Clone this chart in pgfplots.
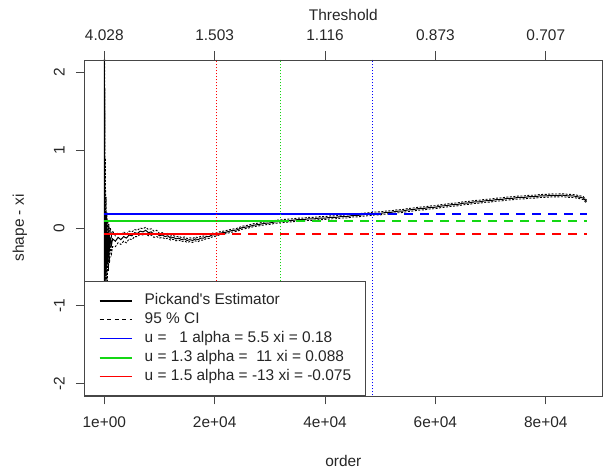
\documentclass[border=0pt]{standalone}
\usepackage{fontspec}
\setmainfont{Liberation Sans}[Ligatures=TeXOff]
\usepackage{pgfplots}
\pgfplotsset{compat=1.18}
\usepackage{pgfplotstable}
\definecolor{rblue}{RGB}{0,0,255}
\definecolor{rgreen}{RGB}{20,215,20}
\definecolor{rred}{RGB}{255,0,0}
\definecolor{frame}{RGB}{70,70,70}
\newcommand\f{\fontsize{15.5}{18}\selectfont}

\pgfplotstableread{
x est lo hi
1 3.0 -5 5
25 -3.0 -5 5
50 1.5 -3 4
80 -1.2 -2.5 1.0
110 0.5 -1.5 1.8
150 -0.8 -1.6 0.2
200 0.2 -0.6 0.9
260 -0.6 -1.1 -0.1
330 0.0 -0.4 0.4
400 -0.5 -0.8 -0.2
480 -0.05 -0.3 0.2
560 -0.45 -0.7 -0.2
650 -0.08 -0.25 0.1
750 -0.38 -0.55 -0.2
850 -0.1 -0.25 0.05
950 -0.3 -0.45 -0.15
1100 -0.12 -0.24 0.0
1300 -0.22 -0.33 -0.11
1500 -0.14 -0.24 -0.04
2000 -0.17 -0.24 -0.10
2500 -0.12 -0.19 -0.06
3000 -0.15 -0.21 -0.09
3500 -0.11 -0.17 -0.05
4000 -0.13 -0.19 -0.08
4500 -0.09 -0.14 -0.04
5000 -0.10 -0.15 -0.05
5500 -0.06 -0.11 -0.02
6000 -0.07 -0.11 -0.03
6500 -0.04 -0.08 0.00
7000 -0.05 -0.09 -0.01
7500 -0.03 -0.07 0.01
8000 -0.06 -0.10 -0.02
8500 -0.05 -0.09 -0.01
9000 -0.08 -0.12 -0.04
9500 -0.07 -0.11 -0.03
10000 -0.10 -0.13 -0.07
10500 -0.09 -0.12 -0.06
11000 -0.11 -0.14 -0.08
11500 -0.10 -0.13 -0.07
12000 -0.13 -0.155 -0.105
12500 -0.12 -0.145 -0.095
13000 -0.14 -0.165 -0.115
13500 -0.13 -0.155 -0.105
14000 -0.15 -0.175 -0.125
14500 -0.14 -0.165 -0.115
15000 -0.16 -0.185 -0.135
15500 -0.15 -0.175 -0.125
16000 -0.16 -0.185 -0.135
16500 -0.14 -0.165 -0.115
17000 -0.15 -0.175 -0.125
17500 -0.13 -0.155 -0.105
18000 -0.13 -0.155 -0.105
18500 -0.11 -0.135 -0.085
19000 -0.11 -0.135 -0.085
19500 -0.09 -0.115 -0.065
20000 -0.09 -0.11 -0.07
21000 -0.065 -0.085 -0.047
22000 -0.055 -0.073 -0.035
23000 -0.035 -0.055 -0.017
24000 -0.025 -0.043 -0.005
25000 0.005 -0.015 0.023
26000 0.015 -0.003 0.035
27000 0.035 0.017 0.055
28000 0.045 0.027 0.063
29000 0.06 0.04 0.078
30000 0.065 0.047 0.085
31000 0.08 0.06 0.098
32000 0.085 0.067 0.105
33000 0.095 0.075 0.113
34000 0.097 0.079 0.117
35000 0.108 0.088 0.126
36000 0.107 0.089 0.127
37000 0.118 0.098 0.136
38000 0.117 0.099 0.137
39000 0.128 0.108 0.146
40000 0.127 0.109 0.147
41000 0.138 0.118 0.156
42000 0.137 0.119 0.157
43000 0.148 0.128 0.166
44000 0.147 0.129 0.167
45000 0.162 0.142 0.18
46000 0.162 0.144 0.182
47000 0.173 0.153 0.191
48000 0.177 0.159 0.197
49000 0.188 0.168 0.206
50000 0.187 0.169 0.207
51000 0.2 0.18 0.218
52000 0.202 0.184 0.222
53000 0.215 0.195 0.233
54000 0.217 0.199 0.237
55000 0.232 0.212 0.25
56000 0.237 0.219 0.257
57000 0.25 0.23 0.268
58000 0.252 0.234 0.272
59000 0.265 0.245 0.283
60000 0.267 0.249 0.287
61000 0.282 0.262 0.3
62000 0.288 0.27 0.308
63000 0.3 0.28 0.318
64000 0.303 0.285 0.323
65000 0.318 0.298 0.336
66000 0.322 0.304 0.342
67000 0.335 0.315 0.353
68000 0.337 0.319 0.357
69000 0.35 0.33 0.368
70000 0.352 0.334 0.372
71000 0.365 0.345 0.383
72000 0.367 0.349 0.387
73000 0.38 0.36 0.398
74000 0.382 0.364 0.402
75000 0.393 0.373 0.411
76000 0.392 0.374 0.412
77000 0.403 0.383 0.421
78000 0.402 0.384 0.422
79000 0.413 0.393 0.431
80000 0.412 0.394 0.432
81000 0.42 0.40 0.438
82000 0.417 0.399 0.437
83000 0.422 0.402 0.44
84000 0.413 0.395 0.433
85000 0.412 0.392 0.43
86000 0.398 0.38 0.418
86800 0.385 0.365 0.403
87400 0.34 0.32 0.358
}\pick

\begin{document}
\begin{tikzpicture}
\begin{axis}[
  scale only axis, width=518bp, height=336bp,
  xmin=-3626, xmax=90245, ymin=-2.16, ymax=2.16,
  scaled x ticks=false, scaled y ticks=false,
  axis line style={draw=frame, line width=0.8bp},
  tick style={draw=frame, line width=0.8bp},
  tick align=outside, major tick length=8.5bp,
  xtick pos=bottom, ytick pos=left,
  xtick={1,20000,40000,60000,80000},
  xticklabels={1e+00,2e+04,4e+04,6e+04,8e+04},
  ytick={-2,-1,0,1,2},
  yticklabels={-2,-1,0,1,2},
  xticklabel style={font=\f, inner sep=0pt, anchor=north, text=black!85},
  yticklabel style={font=\f, inner sep=0pt, rotate=90, anchor=south, text=black!85},
  xticklabel shift=12.5bp, yticklabel shift=11bp,
  xlabel={order}, ylabel={shape - xi},
  xlabel style={font=\f, at={(axis description cs:0.5,-0.2113)}, anchor=base, inner sep=0pt, text=black!85},
  ylabel style={font=\f, at={(axis description cs:-0.1168,0.5)}, anchor=base, inner sep=0pt, text=black!85},
  legend image code/.code={\draw[#1] (0bp,0bp) -- (32bp,0bp);},
  legend cell align=left,
  legend style={at={(0,0)}, anchor=south west, draw=frame, line width=0.8bp, fill=white,
    inner xsep=14bp, inner ysep=12bp, row sep=5bp, column sep=12bp,
    font=\f, text=black!85, cells={anchor=west},
    nodes={inner sep=0pt, text height=10.5bp, text depth=3.5bp}},
]
\addplot[forget plot, black, line width=1bp] table[x=x, y=est] {\pick};
\addplot[forget plot, black, line width=0.9bp, dash pattern=on 2bp off 1.5bp] table[x=x, y=lo] {\pick};
\addplot[forget plot, black, line width=0.9bp, dash pattern=on 2bp off 1.5bp] table[x=x, y=hi] {\pick};
% fitted xi levels
\addplot[forget plot, rblue, line width=2bp] coordinates {(1,0.18) (48595,0.18)};
\addplot[forget plot, rblue, line width=2bp, dash pattern=on 9bp off 7bp] coordinates {(48595,0.18) (87400,0.18)};
\addplot[forget plot, rgreen, line width=2bp] coordinates {(1,0.088) (31859,0.088)};
\addplot[forget plot, rgreen, line width=2bp, dash pattern=on 9bp off 7bp] coordinates {(31859,0.088) (87400,0.088)};
\addplot[forget plot, rred, line width=2bp] coordinates {(1,-0.075) (20254,-0.075)};
\addplot[forget plot, rred, line width=2bp, dash pattern=on 9bp off 7bp] coordinates {(20254,-0.075) (87400,-0.075)};
% thresholds
\addplot[forget plot, rred, line width=0.9bp, dash pattern=on 1bp off 2bp] coordinates {(20254,-3) (20254,3)};
\addplot[forget plot, rgreen, line width=0.9bp, dash pattern=on 1bp off 2bp] coordinates {(31859,-3) (31859,3)};
\addplot[forget plot, rblue, line width=0.9bp, dash pattern=on 1bp off 2bp] coordinates {(48595,-3) (48595,3)};
\addlegendimage{black, line width=2bp}
\addlegendimage{black, line width=0.9bp, dash pattern=on 4bp off 3.5bp}
\addlegendimage{rblue, line width=1.8bp}
\addlegendimage{rgreen, line width=2bp}
\addlegendimage{rred, line width=1.8bp}
\legend{Pickand's Estimator, 95 \% CI, u =\ \ \ 1 alpha = 5.5 xi = 0.18, u = 1.3 alpha =\ \ 11 xi = 0.088, u = 1.5 alpha = -13 xi = -0.075}
\end{axis}
\begin{axis}[
  scale only axis, width=518bp, height=336bp,
  xmin=-3626, xmax=90245, ymin=-2.16, ymax=2.16,
  scaled x ticks=false,
  axis x line*=top, hide y axis,
  axis line style={draw=frame, line width=0.8bp},
  tick style={draw=frame, line width=0.8bp},
  tick align=outside, major tick length=8.5bp,
  xtick={1,20000,40000,60000,80000},
  xticklabels={4.028,1.503,1.116,0.873,0.707},
  xticklabel style={font=\f, inner sep=0pt, anchor=south, text=black!85},
  xticklabel shift=10.5bp,
  xlabel={Threshold},
  xlabel style={font=\f, at={(axis description cs:0.5,1.1161)}, anchor=base, inner sep=0pt, text=black!85},
]
\addplot[draw=none, forget plot] coordinates {(1,0) (2,0)};
\end{axis}
\pgfresetboundingbox
\path (-84.3bp,-78bp) rectangle (519.7bp,396bp);
\end{tikzpicture}
\end{document}
